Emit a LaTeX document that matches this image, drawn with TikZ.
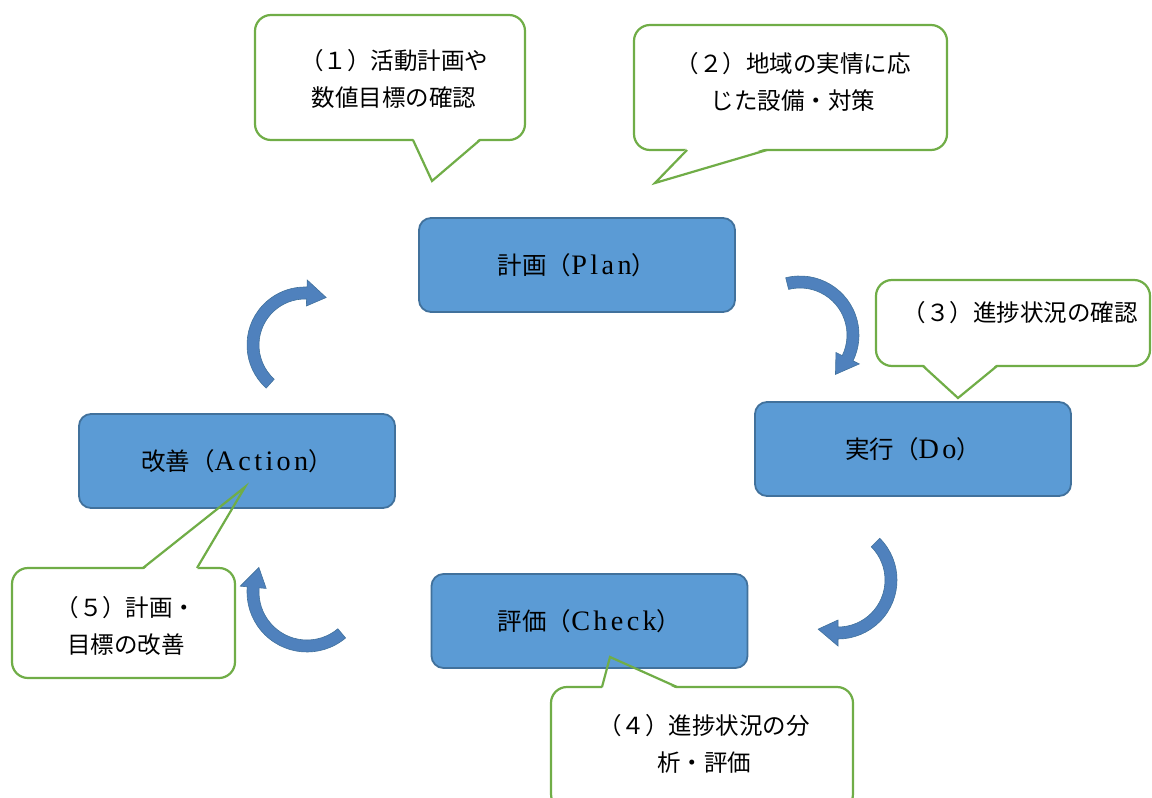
\documentclass[tikz,border=0pt]{standalone}
\usepackage{fontspec}
\setmainfont{Liberation Serif}
\newfontfamily\cjk{Noto Sans CJK JP}
\newfontfamily\latin[Scale=1.15,LetterSpace=12]{Liberation Serif}
\usetikzlibrary{positioning}
\definecolor{boxblue}{RGB}{91,155,213}
\definecolor{boxline}{RGB}{65,113,156}
\definecolor{arrowblue}{RGB}{79,129,189}
\definecolor{bubblegreen}{RGB}{112,173,71}
\tikzset{stage/.style={rectangle,rounded corners=12pt,draw=boxline,line width=1.8pt,fill=boxblue,minimum width=316pt,minimum height=94pt,font=\cjk\fontsize{24.5}{28}\selectfont}}
\tikzset{bubble/.style={rectangle,rounded corners=16pt,draw=bubblegreen,line width=2.2pt,fill=white,inner sep=0pt}}
\tikzset{bubbletail/.style={draw=bubblegreen,line width=2.2pt,line join=miter}}
\tikzset{bubbletext/.style={font=\cjk\fontsize{23.5}{37}\selectfont,align=center,inner sep=0pt}}
\tikzset{cyclearrow/.style={fill=arrowblue,draw=boxline,line width=0.6pt,line join=miter}}

\begin{document}
\begin{tikzpicture}[x=1pt,y=-1pt]
  \useasboundingbox (0,0) rectangle (1152,798);
  \clip (0,0) rectangle (1152,798);

  \node [bubble,minimum width=270pt,minimum height=125pt] (c1) at (390,77.5) {};
  \node [bubble,minimum width=313pt,minimum height=125pt] (c2) at (790.5,87.5) {};
  \node [bubble,minimum width=274pt,minimum height=86pt] (c3) at (1013,323) {};
  \node [bubble,minimum width=302pt,minimum height=123pt] (c4) at (702,748.5) {};
  \node [bubble,minimum width=223pt,minimum height=110pt] (c5) at (123.5,623) {};

  \coordinate (p1) at (432,181);
  \coordinate (p2) at (655,183);
  \coordinate (p3) at (958,398);
  \coordinate (p4) at (610,657);
  \coordinate (p5) at (245,487);

  \fill [white] (413,138) -- (p1) -- (480,138) -- cycle;
  \fill [white] (687,148) -- (p2) -- (767,148) -- cycle;
  \fill [white] (923,364) -- (p3) -- (997,364) -- cycle;
  \fill [white] (602,689) -- (p4) -- (677,689) -- cycle;
  \fill [white] (143,570) -- (p5) -- (197,570) -- cycle;

  \node [stage] (plan) at (577,265) {計画（{\latin Plan}）};
  \node [stage] (do) at (913,449) {実行（{\latin Do}）};
  \node [stage] (check) at (589.5,621) {評価（{\latin Check}）};
  \node [stage] (action) at (237,461) {改善（{\latin Action}）};

  \draw [bubbletail] (413,140) -- (p1) -- (480,140);
  \draw [bubbletail] (687,150) -- (p2) -- (767,150);
  \draw [bubbletail] (923,366) -- (p3) -- (997,366);
  \draw [bubbletail] (602,687) -- (p4) -- (677,687);
  \draw [bubbletail] (143,568) -- (p5) -- (197,568);

  \node [bubbletext] (t1) at (394,78.5) {（１）活動計画や\\数値目標の確認};
  \node [bubbletext] (t2) at (793,81.5) {（２）地域の実情に応\\じた設備・対策};
  \node [bubbletext] (t3) at (1020,313) {（３）進捗状況の確認};
  \node [bubbletext] (t4) at (704,743.5) {（４）進捗状況の分\\析・評価};
  \node [bubbletext] (t5) at (126,626) {（５）計画・\\目標の改善};

  \foreach \cx/\cy/\r/\a/\b in {305/345/52/132/272, 800/335/53/256/386, 838/580/53/315/450, 307/592/54/50/185}
  {
    \pgfmathsetmacro\tip{\b+22}
    \filldraw [cyclearrow,shift={(\cx,\cy)}]
      (\a:\r+6) arc [start angle=\a,end angle=\b,radius=\r+6]
      -- (\b:\r+13) -- (\tip:\r) -- (\b:\r-13) -- (\b:\r-6)
      arc [start angle=\b,end angle=\a,radius=\r-6] -- cycle;
  }
\end{tikzpicture}
\end{document}
